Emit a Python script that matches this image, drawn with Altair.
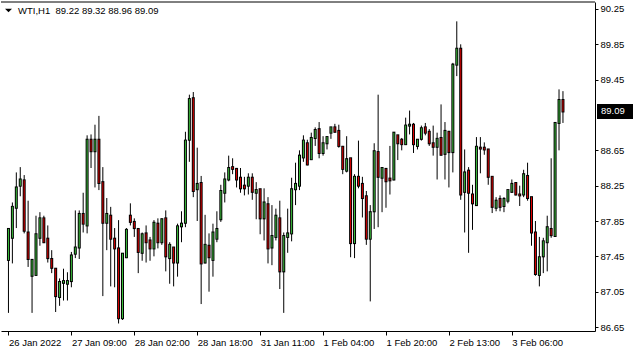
import altair as alt
import pandas as pd

symbol = "WTI,H1"

opens = [87.41, 87.66, 88.00, 88.25, 88.31, 87.72, 87.23, 87.24, 87.66, 87.88,
         87.65, 87.42, 87.31, 86.99, 87.15, 87.14, 87.17, 87.48, 87.55, 87.93,
         87.80, 88.77, 88.64, 88.77, 88.29, 87.83, 87.91, 87.65, 87.54, 86.75,
         87.44, 87.91, 87.84, 87.76, 87.49, 87.71, 87.63, 87.54, 87.82, 87.61,
         87.88, 87.43, 87.55, 87.38, 87.79, 87.83, 88.77, 89.24, 88.21, 88.28,
         87.38, 87.57, 87.41, 87.65, 87.87, 88.17, 88.32, 88.46, 88.44, 88.34,
         88.25, 88.25, 88.34, 88.17, 88.21, 87.88, 88.04, 87.55, 87.67, 87.88,
         87.28, 87.67, 87.71, 88.21, 88.25, 88.57, 88.73, 88.55, 88.79, 88.89,
         88.62, 88.73, 88.85, 88.91, 88.87, 88.69, 88.42, 88.56, 87.60, 88.35,
         88.27, 88.13, 87.65, 87.96, 88.63, 88.34, 88.44, 88.33, 88.32, 88.82,
         88.77, 88.72, 88.93, 88.94, 88.70, 88.78, 88.91, 88.86, 88.73, 88.69,
         88.79, 88.61, 88.86, 88.63, 89.62, 89.80, 88.18, 88.42, 88.15, 88.03,
         88.68, 88.68, 88.66, 88.35, 88.00, 88.10, 88.02, 88.08, 88.18, 88.28,
         88.15, 88.15, 88.36, 88.12, 87.72, 87.24, 87.45, 87.61, 87.76, 87.68,
         88.96, 89.22]
highs = [87.77, 88.06, 88.40, 88.46, 88.37, 88.08, 87.41, 87.91, 87.95, 87.91,
         87.80, 87.52, 87.31, 87.20, 87.31, 87.27, 87.50, 87.97, 87.97, 88.17,
         88.82, 88.83, 88.94, 89.04, 88.46, 88.11, 88.01, 87.77, 87.86, 87.48,
         87.77, 88.05, 87.88, 87.76, 87.72, 87.80, 87.67, 87.86, 87.88, 87.88,
         87.97, 87.61, 87.55, 87.82, 87.96, 88.86, 89.28, 89.31, 88.68, 88.36,
         87.92, 87.71, 87.82, 87.96, 88.26, 88.40, 88.59, 88.56, 88.45, 88.45,
         88.35, 88.39, 88.39, 88.29, 88.21, 88.22, 88.12, 88.03, 87.99, 88.08,
         87.72, 87.99, 88.34, 88.51, 88.65, 88.82, 88.77, 88.85, 88.91, 88.97,
         88.81, 88.81, 88.91, 88.95, 88.94, 88.70, 88.81, 88.56, 88.38, 88.76,
         88.35, 88.19, 88.03, 88.73, 89.28, 88.45, 88.44, 88.70, 88.85, 88.82,
         88.79, 89.02, 89.10, 88.96, 88.77, 88.93, 88.96, 88.89, 88.93, 88.85,
         89.17, 88.97, 88.87, 89.64, 90.11, 89.85, 88.66, 88.46, 88.26, 88.80,
         88.80, 88.74, 88.66, 88.35, 88.12, 88.14, 88.12, 88.20, 88.32, 88.29,
         88.25, 88.43, 88.51, 88.12, 87.85, 87.67, 87.66, 87.91, 88.56, 88.96,
         89.34, 89.32]
lows = [86.81, 87.37, 87.77, 88.13, 87.71, 87.33, 86.81, 87.23, 87.57, 87.60,
        87.38, 87.26, 86.82, 86.89, 86.95, 86.95, 87.10, 87.43, 87.42, 87.72,
        87.71, 88.45, 88.23, 88.20, 87.00, 87.52, 87.11, 87.10, 86.69, 86.73,
        87.43, 87.80, 87.67, 87.26, 87.40, 87.38, 87.40, 87.45, 87.54, 87.58,
        87.28, 87.14, 87.11, 87.22, 87.61, 87.78, 88.52, 88.12, 87.85, 86.91,
        87.37, 87.05, 87.22, 87.61, 87.84, 88.06, 88.30, 88.38, 88.23, 88.17,
        88.14, 88.15, 88.09, 87.87, 87.70, 87.63, 87.37, 87.35, 87.63, 87.08,
        86.81, 87.49, 87.62, 88.03, 88.20, 88.52, 88.48, 88.54, 88.70, 88.56,
        88.59, 88.66, 88.78, 88.85, 88.68, 88.38, 88.40, 87.44, 87.43, 88.22,
        87.89, 87.58, 86.94, 87.76, 87.78, 87.95, 88.00, 88.15, 88.31, 88.54,
        88.65, 88.71, 88.83, 88.62, 88.66, 88.76, 88.82, 88.70, 88.59, 88.32,
        88.59, 88.32, 88.23, 88.40, 89.49, 88.09, 87.72, 87.49, 87.75, 88.03,
        88.39, 88.60, 88.26, 87.94, 87.96, 87.96, 87.95, 88.05, 88.17, 88.14,
        88.02, 88.12, 88.08, 87.57, 87.23, 87.11, 87.26, 87.28, 87.66, 87.67,
        88.65, 88.96]
closes = [87.76, 88.01, 88.23, 88.32, 87.74, 87.42, 87.41, 87.70, 87.88, 87.61,
          87.43, 87.32, 87.00, 87.16, 87.17, 87.17, 87.46, 87.55, 87.93, 87.82,
          88.77, 88.64, 88.77, 88.28, 87.83, 87.93, 87.65, 87.54, 86.75, 87.48,
          87.75, 87.84, 87.77, 87.50, 87.70, 87.61, 87.54, 87.83, 87.61, 87.87,
          87.45, 87.58, 87.38, 87.79, 87.82, 88.76, 89.23, 88.19, 88.27, 87.37,
          87.58, 87.44, 87.72, 87.76, 88.19, 88.32, 88.45, 88.44, 88.32, 88.22,
          88.22, 88.34, 88.18, 88.20, 87.88, 88.06, 87.54, 87.68, 87.91, 87.28,
          87.68, 87.71, 88.21, 88.27, 88.59, 88.76, 88.49, 88.79, 88.88, 88.62,
          88.73, 88.80, 88.91, 88.86, 88.70, 88.44, 88.55, 87.60, 88.35, 88.25,
          88.11, 87.65, 87.95, 88.64, 88.35, 88.45, 88.30, 88.31, 88.85, 88.73,
          88.72, 88.93, 88.94, 88.72, 88.77, 88.90, 88.85, 88.73, 88.69, 88.78,
          88.60, 88.87, 88.63, 89.62, 89.80, 88.15, 88.40, 88.17, 88.05, 88.69,
          88.67, 88.66, 88.35, 88.01, 88.08, 88.01, 88.10, 88.20, 88.27, 88.15,
          88.14, 88.38, 88.11, 87.72, 87.25, 87.44, 87.62, 87.78, 87.69, 88.96,
          89.22, 89.09]

tick_idx = [0, 16, 32, 48, 64, 80, 96, 112, 128]
tick_labels = ["26 Jan 2022", "27 Jan 09:00", "28 Jan 02:00", "28 Jan 18:00",
               "31 Jan 11:00", "1 Feb 04:00", "1 Feb 20:00", "2 Feb 13:00",
               "3 Feb 06:00"]
# 89.05 sits under the current-price box in the reference, so it is not drawn
price_ticks = [86.65, 87.05, 87.45, 87.85, 88.25, 88.65, 89.45, 89.85, 90.25]

GREEN = "#3cbf3c"
RED = "#e00000"
FONT = "Liberation Sans"
FS = 9.5

n = len(closes)
df = pd.DataFrame({"i": list(range(n)), "open": opens, "high": highs,
                   "low": lows, "close": closes})
df["dir"] = ["up" if c >= o else "down" for o, c in zip(opens, closes)]

W, H = 594, 329
xscale = alt.Scale(domain=[-0.625, 147.875], nice=False, zero=False)
yscale = alt.Scale(domain=[86.605, 90.329], nice=False, zero=False)
px = (90.329 - 86.605) / H  # one pixel in price units, for the body outline

label_expr = "''"
for v, t in reversed(list(zip(tick_idx, tick_labels))):
    label_expr = f"datum.value == {v} ? '{t}' : ({label_expr})"

x_axis = alt.Axis(values=tick_idx, labelExpr=label_expr, orient="bottom", title=None,
                  grid=False, tickSize=4, tickColor="black", domainColor="black",
                  labelAlign="left", labelBaseline="top", labelPadding=2, labelFont=FONT,
                  labelFontSize=FS, labelColor="black", labelFlush=False,
                  labelOverlap=False, zindex=0)
y_axis = alt.Axis(values=price_ticks, format=".2f", orient="right", title=None, grid=False,
                  tickSize=3, tickColor="black", domainColor="black", labelPadding=2,
                  labelFont=FONT, labelFontSize=FS, labelColor="black", labelFlush=False,
                  labelOverlap=False, zindex=0)

base = alt.Chart(df)

wick = base.mark_rule(color="black", strokeWidth=1).encode(
    x=alt.X("i:Q", scale=xscale, axis=x_axis),
    y=alt.Y("low:Q", scale=yscale, axis=y_axis),
    y2="high:Q",
)

outline = base.transform_calculate(
    btop=f"max(datum.open, datum.close) + {px}",
    bbot=f"min(datum.open, datum.close) - {px}",
).mark_bar(width=3, color="black").encode(
    x=alt.X("i:Q", scale=xscale, axis=x_axis),
    y=alt.Y("btop:Q", scale=yscale, axis=y_axis),
    y2="bbot:Q",
)

body = base.mark_bar(width=1).encode(
    x=alt.X("i:Q", scale=xscale, axis=x_axis),
    y=alt.Y("open:Q", scale=yscale, axis=y_axis),
    y2="close:Q",
    color=alt.Color("dir:N", scale=alt.Scale(domain=["up", "down"], range=[GREEN, RED]),
                    legend=None),
)

last = base.transform_filter(f"datum.i == {n - 1}")
box = last.transform_calculate(
    top="datum.close + 0.085", bot="datum.close - 0.085"
).mark_rect(color="black").encode(
    x=alt.value(W + 2), x2=alt.value(W + 38),
    y=alt.Y("top:Q", scale=yscale, axis=y_axis), y2="bot:Q",
)
price_txt = last.mark_text(color="white", align="left", baseline="middle",
                           font=FONT, fontSize=FS).encode(
    x=alt.value(W + 6),
    y=alt.Y("close:Q", scale=yscale, axis=y_axis),
    text=alt.Text("close:Q", format=".2f"),
)

header_str = (f"{symbol}\u00a0\u00a0{opens[-1]:.2f} {highs[-1]:.2f} "
              f"{lows[-1]:.2f} {closes[-1]:.2f}")
hdr_df = pd.DataFrame({"t": [header_str]})
header = alt.Chart(hdr_df).mark_text(align="left", baseline="middle", font=FONT,
                                     fontSize=FS, color="black").encode(
    x=alt.value(17), y=alt.value(8.7), text="t:N")
tri = alt.Chart(hdr_df).mark_point(shape="M -1 -0.5 L 1 -0.5 L 0 0.5 Z", filled=True,
                                   color="black", opacity=1, size=49).encode(
    x=alt.value(7.5), y=alt.value(8.5))
topline = alt.Chart(hdr_df).mark_rule(color="black", strokeWidth=1).encode(
    x=alt.value(0), x2=alt.value(W), y=alt.value(0))

chart = alt.layer(wick, outline, body, box, price_txt, header, tri, topline).properties(
    width=W, height=H,
    padding={"left": 1, "top": 2, "right": 40, "bottom": 21},
    autosize=alt.AutoSizeParams(type="none"),
    background="white",
).configure_view(stroke=None)

chart.save("out.html", embed_options={"renderer": "svg", "actions": False})
